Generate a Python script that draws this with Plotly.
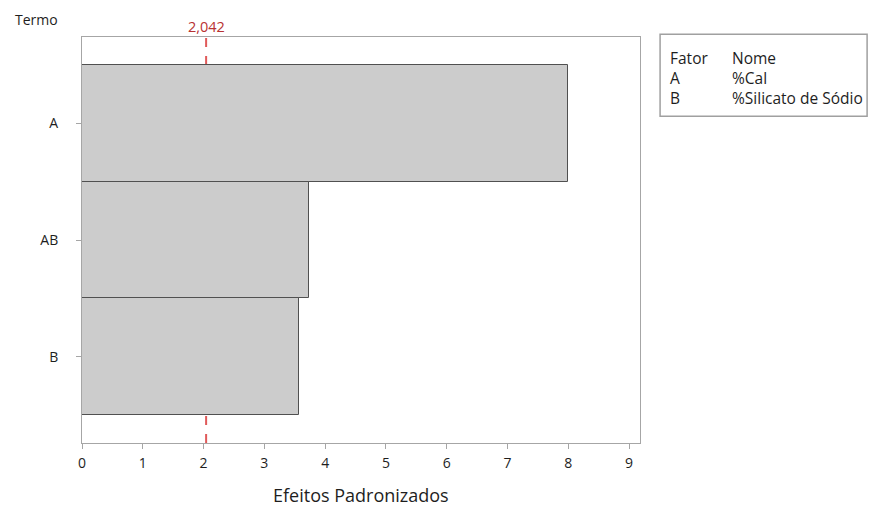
import plotly.graph_objects as go

# Standardized effects (Pareto chart of effects)
terms = ["A", "AB", "B"]
effects = [7.99, 3.73, 3.57]
t_critical = 2.042
t_label = "2,042"
x_ticks = [0, 1, 2, 3, 4, 5, 6, 7, 8, 9]

factor_codes = ["A", "B"]
factor_names = ["%Cal", "%Silicato de Sódio"]

FONT = "Open Sans, Noto Sans, sans-serif"
TXT = "#1e1e1e"

fig = go.Figure()

fig.add_trace(go.Bar(
    y=terms,
    x=effects,
    orientation="h",
    marker=dict(color="#cccccc", line=dict(color="#505050", width=1)),
    width=1,
    showlegend=False,
    hoverinfo="x+y",
))

# critical value reference line (behind the bars)
fig.add_shape(
    type="line", xref="x", yref="paper",
    x0=t_critical, x1=t_critical, y0=0, y1=1,
    line=dict(color="#e05a5a", width=2, dash="dash"),
    layer="below",
)
fig.add_annotation(
    x=t_critical, xref="x", y=1.026, yref="paper",
    text=t_label, showarrow=False, yanchor="middle",
    font=dict(family=FONT, size=14.5, color="#b83232"),
)

# y axis header
fig.add_annotation(
    x=-0.1237, xref="paper", y=1.042, yref="paper",
    text="Termo", showarrow=False, xanchor="left", yanchor="middle",
    font=dict(family=FONT, size=14, color=TXT),
)

# x axis title
fig.add_annotation(
    x=0.5, xref="paper", y=-0.128, yref="paper",
    text="Efeitos Padronizados", showarrow=False, yanchor="middle",
    font=dict(family=FONT, size=18, color=TXT),
)

# factor table on the right
fig.add_shape(
    type="rect", xref="paper", yref="paper",
    x0=1.036, x1=1.407, y0=0.805, y1=1.007,
    line=dict(color="#a0a0a0", width=1.5), fillcolor="white",
)
col_codes = "<br>".join(["Fator"] + factor_codes)
col_names = "<br>".join(["Nome"] + factor_names)
for txt, xx in ((col_codes, 1.050), (col_names, 1.161)):
    fig.add_annotation(
        x=xx, xref="paper", y=0.9, yref="paper",
        text=txt, showarrow=False, xanchor="left", yanchor="middle",
        align="left",
        font=dict(family=FONT, size=15.5, color=TXT),
    )

fig.update_layout(
    width=869, height=506,
    margin=dict(l=82, r=229, t=37, b=63),
    paper_bgcolor="white", plot_bgcolor="white",
    bargap=0,
    xaxis=dict(
        range=[0, 9.18], tickvals=x_ticks,
        showgrid=False, zeroline=False,
        showline=True, linecolor="#a6a6a6", linewidth=1, mirror=True,
        ticks="outside", ticklen=5, tickcolor="#a6a6a6",
        ticklabelstandoff=2,
        tickfont=dict(family=FONT, size=14, color=TXT),
    ),
    yaxis=dict(
        categoryorder="array", categoryarray=terms[::-1],
        range=[-0.74, 2.74],
        showgrid=False, zeroline=False,
        showline=True, linecolor="#a6a6a6", linewidth=1, mirror=True,
        ticks="outside", ticklen=5, tickcolor="#a6a6a6",
        ticklabelstandoff=15,
        tickfont=dict(family=FONT, size=14, color=TXT),
    ),
)

fig.write_html("out.html")
